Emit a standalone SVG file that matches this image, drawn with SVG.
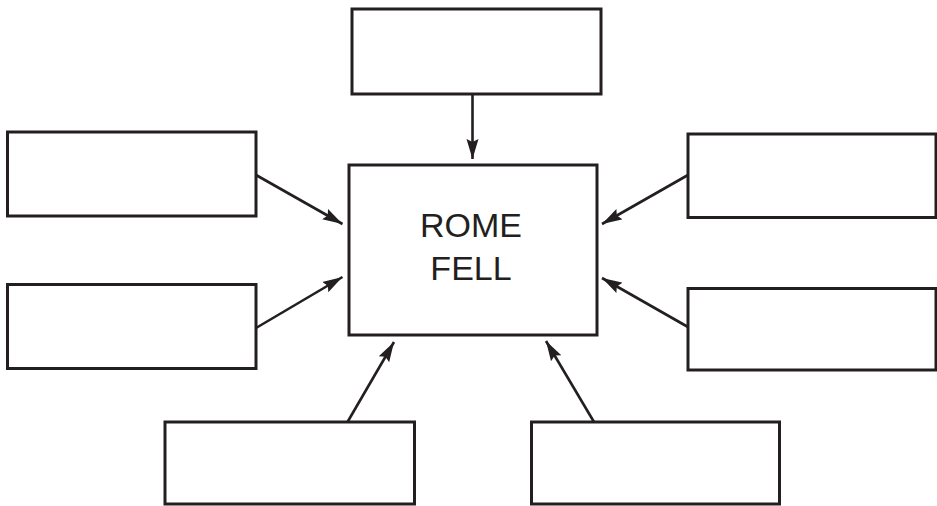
<svg xmlns="http://www.w3.org/2000/svg" width="937" height="506" viewBox="0 0 937 506">
<style>
.box{fill:#fff;stroke:#231f20;stroke-width:3}
.conn{stroke:#231f20;stroke-width:2.6;fill:none}
.lbl{font-family:"Liberation Sans",Arial,sans-serif;font-size:34px;fill:#231f20;text-anchor:middle}
</style>
<defs>
<marker id="ah" markerUnits="userSpaceOnUse" markerWidth="22" markerHeight="14" refX="20" refY="6" orient="auto" viewBox="0 0 22 12">
<path d="M0,0 L20,6 L0,12 L3,6 Z" fill="#231f20"/>
</marker>
</defs>
<rect width="937" height="506" fill="#fff"/>
<g id="center">
<rect class="box" x="349" y="165" width="248" height="170"/>
<text class="lbl" x="471" y="237">ROME</text>
<text class="lbl" x="471" y="280">FELL</text>
</g>
<g id="top"><rect class="box" x="352" y="9" width="249" height="85"/></g>
<g id="left-top"><rect class="box" x="7.5" y="132" width="248.5" height="84"/></g>
<g id="left-bottom"><rect class="box" x="7.5" y="284.5" width="248.5" height="84"/></g>
<g id="right-top"><rect class="box" x="688" y="134" width="248" height="83.5"/></g>
<g id="right-bottom"><rect class="box" x="688" y="288.5" width="248" height="81.5"/></g>
<g id="bottom-left"><rect class="box" x="165" y="422" width="249.5" height="82"/></g>
<g id="bottom-right"><rect class="box" x="531.5" y="422" width="248" height="82"/></g>
<g id="connectors">
<line class="conn" x1="472.5" y1="94" x2="472.5" y2="159" marker-end="url(#ah)"/>
<line class="conn" x1="256" y1="175" x2="342.5" y2="224" marker-end="url(#ah)"/>
<line class="conn" x1="256" y1="328" x2="342.5" y2="277" marker-end="url(#ah)"/>
<line class="conn" x1="688" y1="175" x2="602" y2="224" marker-end="url(#ah)"/>
<line class="conn" x1="688" y1="327" x2="602" y2="278" marker-end="url(#ah)"/>
<line class="conn" x1="347.5" y1="422" x2="394" y2="342" marker-end="url(#ah)"/>
<line class="conn" x1="594" y1="422" x2="546" y2="341" marker-end="url(#ah)"/>
</g>
</svg>
